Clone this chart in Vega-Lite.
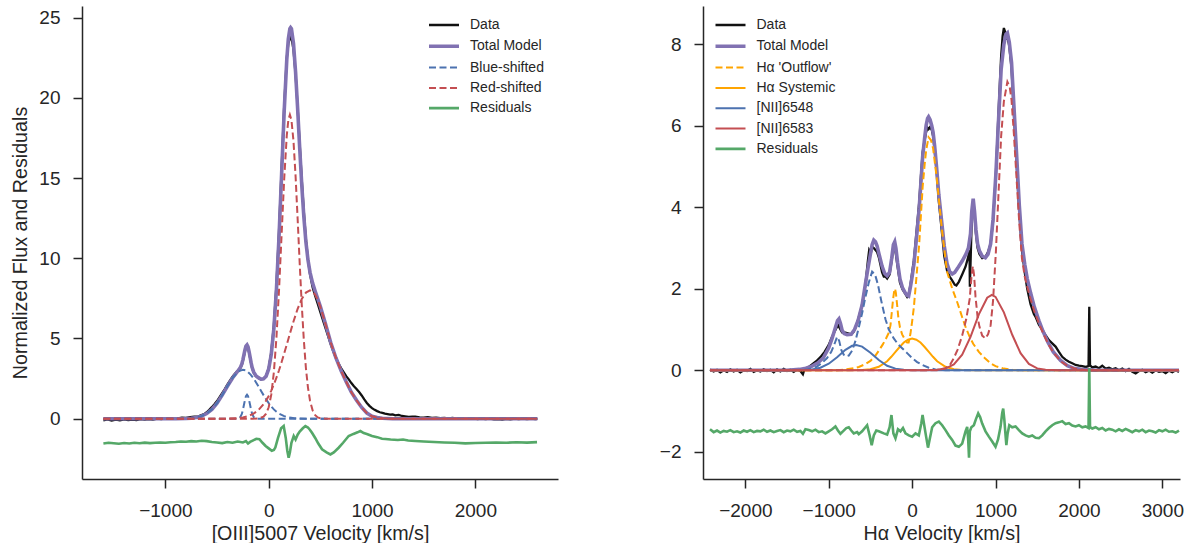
{
  "$schema": "https://vega.github.io/schema/vega-lite/v6.json",
  "background": "white",
  "padding": {"left": 10, "top": 6, "right": 0, "bottom": 0},
  "spacing": 145,
  "bounds": "flush",
  "datasets": {
    "L_data": [
      {"vel": -1600, "flux": -0.1}, {"vel": -1560, "flux": -0.05}, {"vel": -1520, "flux": -0.12}, {"vel": -1480, "flux": -0.06}, {"vel": -1440, "flux": -0.1}, {"vel": -1400, "flux": -0.04}, {"vel": -1360, "flux": -0.09}, {"vel": -1320, "flux": -0.05}, {"vel": -1280, "flux": -0.08}, {"vel": -1240, "flux": -0.03}, {"vel": -1200, "flux": -0.06}, {"vel": -1160, "flux": -0.02}, {"vel": -1120, "flux": -0.05}, {"vel": -1080, "flux": 0.0}, {"vel": -1040, "flux": -0.03}, {"vel": -1000, "flux": 0.02}, {"vel": -960, "flux": -0.01}, {"vel": -920, "flux": 0.03}, {"vel": -880, "flux": 0.02}, {"vel": -840, "flux": 0.06}, {"vel": -800, "flux": 0.05}, {"vel": -760, "flux": 0.09}, {"vel": -720, "flux": 0.12}, {"vel": -680, "flux": 0.15}, {"vel": -650, "flux": 0.22}, {"vel": -620, "flux": 0.3}, {"vel": -600, "flux": 0.4}, {"vel": -575, "flux": 0.55}, {"vel": -550, "flux": 0.72}, {"vel": -525, "flux": 0.9}, {"vel": -500, "flux": 1.1}, {"vel": -475, "flux": 1.35}, {"vel": -450, "flux": 1.6}, {"vel": -425, "flux": 1.85}, {"vel": -400, "flux": 2.12}, {"vel": -375, "flux": 2.38}, {"vel": -350, "flux": 2.62}, {"vel": -325, "flux": 2.82}, {"vel": -300, "flux": 2.98}, {"vel": -275, "flux": 3.15}, {"vel": -260, "flux": 3.35}, {"vel": -250, "flux": 3.6}, {"vel": -240, "flux": 3.9}, {"vel": -230, "flux": 4.2}, {"vel": -220, "flux": 4.42}, {"vel": -210, "flux": 4.5}, {"vel": -200, "flux": 4.4}, {"vel": -190, "flux": 4.12}, {"vel": -180, "flux": 3.78}, {"vel": -170, "flux": 3.45}, {"vel": -160, "flux": 3.15}, {"vel": -145, "flux": 2.88}, {"vel": -125, "flux": 2.66}, {"vel": -100, "flux": 2.53}, {"vel": -75, "flux": 2.45}, {"vel": -50, "flux": 2.48}, {"vel": -25, "flux": 2.66}, {"vel": 0, "flux": 3.15}, {"vel": 25, "flux": 4.15}, {"vel": 50, "flux": 5.8}, {"vel": 75, "flux": 8.35}, {"vel": 100, "flux": 11.7}, {"vel": 125, "flux": 15.6}, {"vel": 150, "flux": 19.5}, {"vel": 175, "flux": 22.5}, {"vel": 190, "flux": 23.4}, {"vel": 205, "flux": 23.7}, {"vel": 215, "flux": 23.9}, {"vel": 225, "flux": 23.6}, {"vel": 240, "flux": 23.0}, {"vel": 260, "flux": 21.5}, {"vel": 280, "flux": 19.4}, {"vel": 300, "flux": 17.1}, {"vel": 320, "flux": 14.9}, {"vel": 340, "flux": 12.9}, {"vel": 360, "flux": 11.2}, {"vel": 380, "flux": 9.95}, {"vel": 400, "flux": 9.0}, {"vel": 425, "flux": 8.2}, {"vel": 450, "flux": 7.65}, {"vel": 475, "flux": 7.15}, {"vel": 500, "flux": 6.65}, {"vel": 525, "flux": 6.15}, {"vel": 550, "flux": 5.65}, {"vel": 575, "flux": 5.15}, {"vel": 600, "flux": 4.65}, {"vel": 625, "flux": 4.2}, {"vel": 650, "flux": 3.8}, {"vel": 675, "flux": 3.45}, {"vel": 700, "flux": 3.15}, {"vel": 725, "flux": 2.9}, {"vel": 750, "flux": 2.65}, {"vel": 775, "flux": 2.45}, {"vel": 800, "flux": 2.22}, {"vel": 825, "flux": 2.02}, {"vel": 850, "flux": 1.85}, {"vel": 875, "flux": 1.66}, {"vel": 900, "flux": 1.45}, {"vel": 925, "flux": 1.2}, {"vel": 950, "flux": 0.98}, {"vel": 975, "flux": 0.8}, {"vel": 1000, "flux": 0.66}, {"vel": 1025, "flux": 0.55}, {"vel": 1050, "flux": 0.47}, {"vel": 1075, "flux": 0.4}, {"vel": 1100, "flux": 0.36}, {"vel": 1125, "flux": 0.31}, {"vel": 1150, "flux": 0.29}, {"vel": 1175, "flux": 0.25}, {"vel": 1200, "flux": 0.27}, {"vel": 1225, "flux": 0.21}, {"vel": 1258, "flux": 0.24}, {"vel": 1290, "flux": 0.17}, {"vel": 1320, "flux": 0.14}, {"vel": 1355, "flux": 0.11}, {"vel": 1390, "flux": 0.12}, {"vel": 1420, "flux": 0.13}, {"vel": 1460, "flux": 0.08}, {"vel": 1500, "flux": 0.06}, {"vel": 1540, "flux": 0.09}, {"vel": 1580, "flux": 0.05}, {"vel": 1620, "flux": 0.07}, {"vel": 1660, "flux": 0.03}, {"vel": 1700, "flux": 0.05}, {"vel": 1740, "flux": 0.02}, {"vel": 1780, "flux": 0.05}, {"vel": 1820, "flux": 0.01}, {"vel": 1860, "flux": 0.04}, {"vel": 1900, "flux": 0.02}, {"vel": 1940, "flux": -0.01}, {"vel": 1980, "flux": 0.03}, {"vel": 2020, "flux": -0.02}, {"vel": 2060, "flux": 0.01}, {"vel": 2100, "flux": -0.03}, {"vel": 2140, "flux": 0.0}, {"vel": 2180, "flux": -0.04}, {"vel": 2220, "flux": -0.02}, {"vel": 2260, "flux": -0.06}, {"vel": 2300, "flux": -0.01}, {"vel": 2340, "flux": -0.04}, {"vel": 2380, "flux": 0.0}, {"vel": 2420, "flux": -0.03}, {"vel": 2460, "flux": 0.01}, {"vel": 2500, "flux": -0.02}, {"vel": 2540, "flux": 0.0}, {"vel": 2580, "flux": -0.03}, {"vel": 2597, "flux": -0.01}
    ],
    "L_total": [
      {"vel": -1600, "flux": 0}, {"vel": -1000, "flux": 0}, {"vel": -900, "flux": 0}, {"vel": -800, "flux": 0.01}, {"vel": -750, "flux": 0.03}, {"vel": -700, "flux": 0.07}, {"vel": -650, "flux": 0.16}, {"vel": -600, "flux": 0.32}, {"vel": -550, "flux": 0.58}, {"vel": -500, "flux": 0.97}, {"vel": -450, "flux": 1.47}, {"vel": -400, "flux": 2.02}, {"vel": -350, "flux": 2.54}, {"vel": -300, "flux": 2.96}, {"vel": -275, "flux": 3.18}, {"vel": -260, "flux": 3.41}, {"vel": -250, "flux": 3.67}, {"vel": -240, "flux": 3.98}, {"vel": -230, "flux": 4.29}, {"vel": -220, "flux": 4.53}, {"vel": -210, "flux": 4.6}, {"vel": -200, "flux": 4.48}, {"vel": -190, "flux": 4.19}, {"vel": -180, "flux": 3.84}, {"vel": -170, "flux": 3.48}, {"vel": -160, "flux": 3.19}, {"vel": -145, "flux": 2.9}, {"vel": -125, "flux": 2.69}, {"vel": -100, "flux": 2.56}, {"vel": -75, "flux": 2.47}, {"vel": -50, "flux": 2.49}, {"vel": -25, "flux": 2.65}, {"vel": 0, "flux": 3.1}, {"vel": 25, "flux": 4.02}, {"vel": 50, "flux": 5.61}, {"vel": 75, "flux": 8.06}, {"vel": 100, "flux": 11.36}, {"vel": 125, "flux": 15.25}, {"vel": 150, "flux": 19.18}, {"vel": 175, "flux": 22.39}, {"vel": 190, "flux": 23.68}, {"vel": 205, "flux": 24.31}, {"vel": 212, "flux": 24.38}, {"vel": 220, "flux": 24.31}, {"vel": 240, "flux": 23.39}, {"vel": 260, "flux": 21.63}, {"vel": 280, "flux": 19.34}, {"vel": 300, "flux": 16.87}, {"vel": 320, "flux": 14.56}, {"vel": 340, "flux": 12.59}, {"vel": 360, "flux": 11.02}, {"vel": 380, "flux": 9.91}, {"vel": 400, "flux": 9.12}, {"vel": 425, "flux": 8.45}, {"vel": 450, "flux": 7.95}, {"vel": 475, "flux": 7.48}, {"vel": 500, "flux": 7.0}, {"vel": 550, "flux": 5.9}, {"vel": 600, "flux": 4.75}, {"vel": 650, "flux": 3.8}, {"vel": 700, "flux": 3.0}, {"vel": 750, "flux": 2.3}, {"vel": 800, "flux": 1.65}, {"vel": 850, "flux": 1.15}, {"vel": 900, "flux": 0.7}, {"vel": 950, "flux": 0.35}, {"vel": 1000, "flux": 0.15}, {"vel": 1050, "flux": 0.07}, {"vel": 1100, "flux": 0.03}, {"vel": 1200, "flux": 0}, {"vel": 2600, "flux": 0}
    ],
    "L_b1": [
      {"vel": -1600, "flux": 0}, {"vel": -900, "flux": 0}, {"vel": -800, "flux": 0.01}, {"vel": -750, "flux": 0.03}, {"vel": -700, "flux": 0.07}, {"vel": -650, "flux": 0.16}, {"vel": -600, "flux": 0.32}, {"vel": -550, "flux": 0.58}, {"vel": -500, "flux": 0.97}, {"vel": -450, "flux": 1.47}, {"vel": -400, "flux": 2.02}, {"vel": -350, "flux": 2.54}, {"vel": -300, "flux": 2.91}, {"vel": -275, "flux": 3.0}, {"vel": -250, "flux": 3.05}, {"vel": -225, "flux": 3.02}, {"vel": -200, "flux": 2.91}, {"vel": -175, "flux": 2.75}, {"vel": -150, "flux": 2.54}, {"vel": -125, "flux": 2.29}, {"vel": -100, "flux": 2.02}, {"vel": -75, "flux": 1.74}, {"vel": -50, "flux": 1.47}, {"vel": -25, "flux": 1.21}, {"vel": 0, "flux": 0.97}, {"vel": 25, "flux": 0.76}, {"vel": 50, "flux": 0.58}, {"vel": 75, "flux": 0.44}, {"vel": 100, "flux": 0.32}, {"vel": 150, "flux": 0.16}, {"vel": 200, "flux": 0.07}, {"vel": 250, "flux": 0.03}, {"vel": 300, "flux": 0.01}, {"vel": 400, "flux": 0}, {"vel": 2600, "flux": 0}
    ],
    "L_b2": [
      {"vel": -1600, "flux": 0}, {"vel": -320, "flux": 0}, {"vel": -290, "flux": 0.02}, {"vel": -275, "flux": 0.1}, {"vel": -260, "flux": 0.3}, {"vel": -250, "flux": 0.54}, {"vel": -240, "flux": 0.85}, {"vel": -230, "flux": 1.16}, {"vel": -220, "flux": 1.41}, {"vel": -210, "flux": 1.5}, {"vel": -200, "flux": 1.41}, {"vel": -190, "flux": 1.16}, {"vel": -180, "flux": 0.85}, {"vel": -170, "flux": 0.54}, {"vel": -160, "flux": 0.3}, {"vel": -145, "flux": 0.1}, {"vel": -130, "flux": 0.03}, {"vel": -115, "flux": 0}, {"vel": 2600, "flux": 0}
    ],
    "L_r1": [
      {"vel": -1600, "flux": 0}, {"vel": -150, "flux": 0}, {"vel": -100, "flux": 0.01}, {"vel": -50, "flux": 0.12}, {"vel": -25, "flux": 0.31}, {"vel": 0, "flux": 0.71}, {"vel": 25, "flux": 1.51}, {"vel": 50, "flux": 2.9}, {"vel": 75, "flux": 5.06}, {"vel": 100, "flux": 8.02}, {"vel": 125, "flux": 11.49}, {"vel": 150, "flux": 14.95}, {"vel": 175, "flux": 17.66}, {"vel": 190, "flux": 18.62}, {"vel": 205, "flux": 18.95}, {"vel": 220, "flux": 18.63}, {"vel": 240, "flux": 17.3}, {"vel": 260, "flux": 15.14}, {"vel": 280, "flux": 12.47}, {"vel": 300, "flux": 9.68}, {"vel": 320, "flux": 7.1}, {"vel": 340, "flux": 4.9}, {"vel": 360, "flux": 3.16}, {"vel": 380, "flux": 1.94}, {"vel": 400, "flux": 1.12}, {"vel": 425, "flux": 0.52}, {"vel": 450, "flux": 0.22}, {"vel": 475, "flux": 0.08}, {"vel": 500, "flux": 0.03}, {"vel": 550, "flux": 0}, {"vel": 2600, "flux": 0}
    ],
    "L_r2": [
      {"vel": -1600, "flux": 0}, {"vel": -400, "flux": 0}, {"vel": -300, "flux": 0.04}, {"vel": -250, "flux": 0.08}, {"vel": -200, "flux": 0.16}, {"vel": -150, "flux": 0.3}, {"vel": -100, "flux": 0.53}, {"vel": -50, "flux": 0.9}, {"vel": -25, "flux": 1.13}, {"vel": 0, "flux": 1.42}, {"vel": 25, "flux": 1.75}, {"vel": 50, "flux": 2.13}, {"vel": 75, "flux": 2.56}, {"vel": 100, "flux": 3.02}, {"vel": 125, "flux": 3.53}, {"vel": 150, "flux": 4.07}, {"vel": 175, "flux": 4.62}, {"vel": 205, "flux": 5.3}, {"vel": 240, "flux": 6.06}, {"vel": 280, "flux": 6.85}, {"vel": 320, "flux": 7.46}, {"vel": 360, "flux": 7.86}, {"vel": 400, "flux": 8.0}, {"vel": 425, "flux": 7.93}, {"vel": 450, "flux": 7.73}, {"vel": 475, "flux": 7.4}, {"vel": 500, "flux": 6.97}, {"vel": 550, "flux": 5.9}, {"vel": 600, "flux": 4.75}, {"vel": 650, "flux": 3.8}, {"vel": 700, "flux": 3.0}, {"vel": 750, "flux": 2.3}, {"vel": 800, "flux": 1.65}, {"vel": 850, "flux": 1.15}, {"vel": 900, "flux": 0.7}, {"vel": 950, "flux": 0.35}, {"vel": 1000, "flux": 0.15}, {"vel": 1050, "flux": 0.07}, {"vel": 1100, "flux": 0.03}, {"vel": 1200, "flux": 0}, {"vel": 2600, "flux": 0}
    ],
    "L_resid": [
      {"vel": -1600, "flux": -1.55}, {"vel": -1550, "flux": -1.5}, {"vel": -1500, "flux": -1.53}, {"vel": -1450, "flux": -1.56}, {"vel": -1400, "flux": -1.52}, {"vel": -1350, "flux": -1.55}, {"vel": -1300, "flux": -1.5}, {"vel": -1250, "flux": -1.53}, {"vel": -1200, "flux": -1.49}, {"vel": -1150, "flux": -1.52}, {"vel": -1100, "flux": -1.5}, {"vel": -1050, "flux": -1.48}, {"vel": -1000, "flux": -1.5}, {"vel": -950, "flux": -1.47}, {"vel": -900, "flux": -1.45}, {"vel": -850, "flux": -1.42}, {"vel": -800, "flux": -1.44}, {"vel": -750, "flux": -1.4}, {"vel": -700, "flux": -1.42}, {"vel": -650, "flux": -1.38}, {"vel": -600, "flux": -1.4}, {"vel": -550, "flux": -1.45}, {"vel": -500, "flux": -1.48}, {"vel": -450, "flux": -1.52}, {"vel": -400, "flux": -1.45}, {"vel": -350, "flux": -1.5}, {"vel": -300, "flux": -1.42}, {"vel": -250, "flux": -1.48}, {"vel": -220, "flux": -1.4}, {"vel": -200, "flux": -1.55}, {"vel": -180, "flux": -1.45}, {"vel": -150, "flux": -1.35}, {"vel": -120, "flux": -1.25}, {"vel": -90, "flux": -1.28}, {"vel": -60, "flux": -1.5}, {"vel": -30, "flux": -1.7}, {"vel": 0, "flux": -1.85}, {"vel": 30, "flux": -2.0}, {"vel": 50, "flux": -1.95}, {"vel": 64, "flux": -1.8}, {"vel": 90, "flux": -1.2}, {"vel": 120, "flux": -0.6}, {"vel": 145, "flux": -0.46}, {"vel": 165, "flux": -1.2}, {"vel": 180, "flux": -2.0}, {"vel": 193, "flux": -2.43}, {"vel": 205, "flux": -2.1}, {"vel": 220, "flux": -1.5}, {"vel": 242, "flux": -1.08}, {"vel": 260, "flux": -1.3}, {"vel": 280, "flux": -1.0}, {"vel": 300, "flux": -0.8}, {"vel": 330, "flux": -0.6}, {"vel": 355, "flux": -0.46}, {"vel": 380, "flux": -0.55}, {"vel": 400, "flux": -0.7}, {"vel": 419, "flux": -0.88}, {"vel": 450, "flux": -1.2}, {"vel": 480, "flux": -1.55}, {"vel": 516, "flux": -1.91}, {"vel": 560, "flux": -2.1}, {"vel": 597, "flux": -2.23}, {"vel": 630, "flux": -2.1}, {"vel": 677, "flux": -1.81}, {"vel": 720, "flux": -1.5}, {"vel": 774, "flux": -1.08}, {"vel": 820, "flux": -0.95}, {"vel": 860, "flux": -0.85}, {"vel": 887, "flux": -0.77}, {"vel": 920, "flux": -0.9}, {"vel": 950, "flux": -0.95}, {"vel": 1000, "flux": -1.08}, {"vel": 1050, "flux": -1.15}, {"vel": 1097, "flux": -1.25}, {"vel": 1129, "flux": -1.27}, {"vel": 1180, "flux": -1.3}, {"vel": 1250, "flux": -1.33}, {"vel": 1300, "flux": -1.3}, {"vel": 1350, "flux": -1.36}, {"vel": 1419, "flux": -1.39}, {"vel": 1500, "flux": -1.42}, {"vel": 1600, "flux": -1.45}, {"vel": 1700, "flux": -1.48}, {"vel": 1800, "flux": -1.5}, {"vel": 1903, "flux": -1.54}, {"vel": 2000, "flux": -1.52}, {"vel": 2100, "flux": -1.5}, {"vel": 2200, "flux": -1.48}, {"vel": 2300, "flux": -1.5}, {"vel": 2400, "flux": -1.47}, {"vel": 2500, "flux": -1.49}, {"vel": 2597, "flux": -1.46}
    ],
    "R_data": [
      {"vel": -2424, "flux": 0.02}, {"vel": -2380, "flux": -0.03}, {"vel": -2340, "flux": 0.01}, {"vel": -2300, "flux": -0.05}, {"vel": -2260, "flux": 0.0}, {"vel": -2220, "flux": -0.04}, {"vel": -2180, "flux": 0.02}, {"vel": -2140, "flux": -0.03}, {"vel": -2100, "flux": 0.01}, {"vel": -2060, "flux": -0.05}, {"vel": -2020, "flux": 0.0}, {"vel": -1980, "flux": -0.02}, {"vel": -1940, "flux": 0.03}, {"vel": -1900, "flux": -0.04}, {"vel": -1860, "flux": 0.0}, {"vel": -1820, "flux": -0.03}, {"vel": -1780, "flux": 0.02}, {"vel": -1740, "flux": -0.02}, {"vel": -1700, "flux": 0.01}, {"vel": -1660, "flux": -0.05}, {"vel": -1620, "flux": 0.02}, {"vel": -1580, "flux": -0.03}, {"vel": -1540, "flux": 0.03}, {"vel": -1500, "flux": -0.02}, {"vel": -1460, "flux": 0.01}, {"vel": -1420, "flux": -0.04}, {"vel": -1380, "flux": 0.02}, {"vel": -1340, "flux": -0.02}, {"vel": -1310, "flux": -0.1}, {"vel": -1290, "flux": 0.03}, {"vel": -1250, "flux": 0.06}, {"vel": -1200, "flux": 0.14}, {"vel": -1150, "flux": 0.22}, {"vel": -1100, "flux": 0.32}, {"vel": -1050, "flux": 0.45}, {"vel": -1000, "flux": 0.62}, {"vel": -960, "flux": 0.82}, {"vel": -930, "flux": 0.95}, {"vel": -905, "flux": 1.05}, {"vel": -885, "flux": 1.1}, {"vel": -860, "flux": 1.0}, {"vel": -840, "flux": 0.93}, {"vel": -800, "flux": 0.92}, {"vel": -760, "flux": 0.9}, {"vel": -730, "flux": 0.88}, {"vel": -700, "flux": 0.95}, {"vel": -670, "flux": 1.1}, {"vel": -640, "flux": 1.3}, {"vel": -600, "flux": 1.6}, {"vel": -560, "flux": 2.1}, {"vel": -530, "flux": 2.7}, {"vel": -515, "flux": 2.95}, {"vel": -495, "flux": 2.88}, {"vel": -480, "flux": 3.03}, {"vel": -460, "flux": 3.0}, {"vel": -440, "flux": 2.95}, {"vel": -420, "flux": 2.9}, {"vel": -397, "flux": 2.75}, {"vel": -360, "flux": 2.4}, {"vel": -340, "flux": 2.3}, {"vel": -320, "flux": 2.3}, {"vel": -300, "flux": 2.25}, {"vel": -271, "flux": 2.35}, {"vel": -245, "flux": 2.7}, {"vel": -225, "flux": 3.02}, {"vel": -209, "flux": 3.0}, {"vel": -195, "flux": 2.85}, {"vel": -175, "flux": 2.55}, {"vel": -146, "flux": 2.15}, {"vel": -115, "flux": 1.98}, {"vel": -83, "flux": 1.88}, {"vel": -60, "flux": 1.8}, {"vel": -42, "flux": 1.85}, {"vel": -20, "flux": 2.1}, {"vel": 0, "flux": 2.4}, {"vel": 21, "flux": 2.7}, {"vel": 50, "flux": 3.35}, {"vel": 84, "flux": 4.1}, {"vel": 105, "flux": 4.75}, {"vel": 126, "flux": 5.35}, {"vel": 150, "flux": 5.65}, {"vel": 168, "flux": 5.85}, {"vel": 185, "flux": 5.95}, {"vel": 197, "flux": 5.92}, {"vel": 215, "flux": 5.97}, {"vel": 235, "flux": 5.9}, {"vel": 251, "flux": 5.75}, {"vel": 270, "flux": 5.4}, {"vel": 293, "flux": 4.9}, {"vel": 320, "flux": 4.15}, {"vel": 356, "flux": 3.4}, {"vel": 385, "flux": 2.8}, {"vel": 418, "flux": 2.45}, {"vel": 450, "flux": 2.3}, {"vel": 481, "flux": 2.2}, {"vel": 510, "flux": 2.1}, {"vel": 530, "flux": 2.08}, {"vel": 560, "flux": 2.17}, {"vel": 600, "flux": 2.35}, {"vel": 640, "flux": 2.54}, {"vel": 675, "flux": 2.8}, {"vel": 688, "flux": 2.95}, {"vel": 692, "flux": 2.05}, {"vel": 700, "flux": 2.6}, {"vel": 715, "flux": 3.7}, {"vel": 732, "flux": 4.05}, {"vel": 748, "flux": 3.8}, {"vel": 765, "flux": 3.35}, {"vel": 785, "flux": 3.0}, {"vel": 807, "flux": 2.85}, {"vel": 840, "flux": 2.75}, {"vel": 878, "flux": 2.78}, {"vel": 910, "flux": 2.9}, {"vel": 941, "flux": 3.1}, {"vel": 970, "flux": 3.65}, {"vel": 1004, "flux": 4.8}, {"vel": 1035, "flux": 6.3}, {"vel": 1067, "flux": 7.7}, {"vel": 1085, "flux": 8.2}, {"vel": 1100, "flux": 8.4}, {"vel": 1115, "flux": 8.3}, {"vel": 1125, "flux": 8.15}, {"vel": 1142, "flux": 8.2}, {"vel": 1165, "flux": 7.95}, {"vel": 1192, "flux": 7.4}, {"vel": 1220, "flux": 6.3}, {"vel": 1254, "flux": 5.0}, {"vel": 1285, "flux": 3.85}, {"vel": 1317, "flux": 2.95}, {"vel": 1350, "flux": 2.4}, {"vel": 1380, "flux": 2.0}, {"vel": 1420, "flux": 1.62}, {"vel": 1460, "flux": 1.38}, {"vel": 1480, "flux": 1.31}, {"vel": 1520, "flux": 1.12}, {"vel": 1560, "flux": 0.99}, {"vel": 1600, "flux": 0.86}, {"vel": 1640, "flux": 0.74}, {"vel": 1680, "flux": 0.66}, {"vel": 1720, "flux": 0.58}, {"vel": 1760, "flux": 0.45}, {"vel": 1800, "flux": 0.33}, {"vel": 1840, "flux": 0.26}, {"vel": 1880, "flux": 0.21}, {"vel": 1920, "flux": 0.17}, {"vel": 1960, "flux": 0.13}, {"vel": 2000, "flux": 0.11}, {"vel": 2040, "flux": 0.1}, {"vel": 2080, "flux": 0.08}, {"vel": 2115, "flux": 0.1}, {"vel": 2124, "flux": 1.56}, {"vel": 2133, "flux": 0.12}, {"vel": 2160, "flux": 0.07}, {"vel": 2200, "flux": 0.09}, {"vel": 2240, "flux": 0.05}, {"vel": 2280, "flux": 0.11}, {"vel": 2320, "flux": 0.04}, {"vel": 2360, "flux": 0.06}, {"vel": 2400, "flux": 0.02}, {"vel": 2440, "flux": 0.05}, {"vel": 2480, "flux": 0.0}, {"vel": 2520, "flux": 0.04}, {"vel": 2560, "flux": -0.02}, {"vel": 2600, "flux": 0.03}, {"vel": 2640, "flux": -0.04}, {"vel": 2680, "flux": -0.08}, {"vel": 2720, "flux": -0.02}, {"vel": 2760, "flux": 0.01}, {"vel": 2800, "flux": -0.05}, {"vel": 2840, "flux": -0.01}, {"vel": 2880, "flux": -0.06}, {"vel": 2920, "flux": 0.0}, {"vel": 2960, "flux": -0.04}, {"vel": 3000, "flux": -0.02}, {"vel": 3040, "flux": -0.07}, {"vel": 3080, "flux": -0.01}, {"vel": 3120, "flux": -0.05}, {"vel": 3160, "flux": 0.0}, {"vel": 3200, "flux": -0.04}
    ],
    "R_total": [
      {"vel": -2424, "flux": 0}, {"vel": -1500, "flux": 0}, {"vel": -1350, "flux": 0.02}, {"vel": -1275, "flux": 0.05}, {"vel": -1200, "flux": 0.1}, {"vel": -1130, "flux": 0.18}, {"vel": -1066, "flux": 0.3}, {"vel": -1000, "flux": 0.55}, {"vel": -960, "flux": 0.78}, {"vel": -920, "flux": 1.05}, {"vel": -895, "flux": 1.22}, {"vel": -878, "flux": 1.26}, {"vel": -860, "flux": 1.15}, {"vel": -840, "flux": 0.98}, {"vel": -815, "flux": 0.9}, {"vel": -780, "flux": 0.87}, {"vel": -731, "flux": 0.88}, {"vel": -690, "flux": 1.0}, {"vel": -648, "flux": 1.22}, {"vel": -600, "flux": 1.6}, {"vel": -564, "flux": 2.07}, {"vel": -530, "flux": 2.5}, {"vel": -501, "flux": 2.84}, {"vel": -480, "flux": 3.08}, {"vel": -460, "flux": 3.19}, {"vel": -440, "flux": 3.15}, {"vel": -420, "flux": 3.05}, {"vel": -397, "flux": 2.85}, {"vel": -360, "flux": 2.55}, {"vel": -330, "flux": 2.38}, {"vel": -300, "flux": 2.32}, {"vel": -271, "flux": 2.4}, {"vel": -245, "flux": 2.75}, {"vel": -225, "flux": 3.08}, {"vel": -209, "flux": 3.15}, {"vel": -195, "flux": 3.0}, {"vel": -175, "flux": 2.65}, {"vel": -146, "flux": 2.24}, {"vel": -115, "flux": 2.02}, {"vel": -83, "flux": 1.9}, {"vel": -60, "flux": 1.84}, {"vel": -42, "flux": 1.82}, {"vel": -20, "flux": 2.05}, {"vel": 0, "flux": 2.3}, {"vel": 21, "flux": 2.6}, {"vel": 50, "flux": 3.2}, {"vel": 84, "flux": 3.96}, {"vel": 105, "flux": 4.6}, {"vel": 126, "flux": 5.24}, {"vel": 150, "flux": 5.7}, {"vel": 168, "flux": 6.01}, {"vel": 185, "flux": 6.18}, {"vel": 197, "flux": 6.22}, {"vel": 215, "flux": 6.15}, {"vel": 235, "flux": 6.0}, {"vel": 251, "flux": 5.84}, {"vel": 270, "flux": 5.5}, {"vel": 293, "flux": 4.98}, {"vel": 320, "flux": 4.3}, {"vel": 356, "flux": 3.61}, {"vel": 385, "flux": 3.05}, {"vel": 418, "flux": 2.62}, {"vel": 450, "flux": 2.42}, {"vel": 481, "flux": 2.36}, {"vel": 510, "flux": 2.4}, {"vel": 544, "flux": 2.5}, {"vel": 600, "flux": 2.68}, {"vel": 648, "flux": 2.86}, {"vel": 675, "flux": 3.0}, {"vel": 700, "flux": 3.35}, {"vel": 715, "flux": 3.9}, {"vel": 732, "flux": 4.21}, {"vel": 748, "flux": 3.9}, {"vel": 765, "flux": 3.45}, {"vel": 785, "flux": 3.1}, {"vel": 807, "flux": 2.93}, {"vel": 840, "flux": 2.8}, {"vel": 878, "flux": 2.76}, {"vel": 910, "flux": 2.85}, {"vel": 941, "flux": 3.1}, {"vel": 970, "flux": 3.7}, {"vel": 1004, "flux": 4.81}, {"vel": 1035, "flux": 6.1}, {"vel": 1067, "flux": 7.38}, {"vel": 1100, "flux": 8.0}, {"vel": 1125, "flux": 8.25}, {"vel": 1142, "flux": 8.28}, {"vel": 1165, "flux": 8.05}, {"vel": 1192, "flux": 7.55}, {"vel": 1220, "flux": 6.5}, {"vel": 1254, "flux": 5.24}, {"vel": 1285, "flux": 4.05}, {"vel": 1317, "flux": 3.1}, {"vel": 1350, "flux": 2.6}, {"vel": 1380, "flux": 2.25}, {"vel": 1420, "flux": 1.9}, {"vel": 1464, "flux": 1.56}, {"vel": 1520, "flux": 1.22}, {"vel": 1568, "flux": 0.96}, {"vel": 1630, "flux": 0.68}, {"vel": 1693, "flux": 0.45}, {"vel": 1780, "flux": 0.24}, {"vel": 1861, "flux": 0.11}, {"vel": 1950, "flux": 0.04}, {"vel": 2028, "flux": 0.02}, {"vel": 2200, "flux": 0}, {"vel": 3200, "flux": 0}
    ],
    "R_od": [
      {"vel": -2424, "flux": 0}, {"vel": -900, "flux": 0}, {"vel": -800, "flux": 0.02}, {"vel": -700, "flux": 0.05}, {"vel": -640, "flux": 0.08}, {"vel": -560, "flux": 0.15}, {"vel": -500, "flux": 0.23}, {"vel": -440, "flux": 0.36}, {"vel": -400, "flux": 0.48}, {"vel": -350, "flux": 0.64}, {"vel": -313, "flux": 0.78}, {"vel": -280, "flux": 0.92}, {"vel": -260, "flux": 1.1}, {"vel": -245, "flux": 1.4}, {"vel": -230, "flux": 1.72}, {"vel": -215, "flux": 1.95}, {"vel": -205, "flux": 2.0}, {"vel": -195, "flux": 1.9}, {"vel": -180, "flux": 1.6}, {"vel": -165, "flux": 1.28}, {"vel": -146, "flux": 1.05}, {"vel": -120, "flux": 0.88}, {"vel": -83, "flux": 0.74}, {"vel": -60, "flux": 0.68}, {"vel": -42, "flux": 0.68}, {"vel": -20, "flux": 0.9}, {"vel": 0, "flux": 1.2}, {"vel": 21, "flux": 1.55}, {"vel": 50, "flux": 2.25}, {"vel": 84, "flux": 3.08}, {"vel": 105, "flux": 3.8}, {"vel": 126, "flux": 4.5}, {"vel": 150, "flux": 5.05}, {"vel": 168, "flux": 5.4}, {"vel": 197, "flux": 5.72}, {"vel": 225, "flux": 5.65}, {"vel": 251, "flux": 5.45}, {"vel": 293, "flux": 4.75}, {"vel": 356, "flux": 3.47}, {"vel": 418, "flux": 2.42}, {"vel": 481, "flux": 2.0}, {"vel": 544, "flux": 1.65}, {"vel": 600, "flux": 1.3}, {"vel": 648, "flux": 1.02}, {"vel": 690, "flux": 0.82}, {"vel": 732, "flux": 0.65}, {"vel": 800, "flux": 0.45}, {"vel": 870, "flux": 0.3}, {"vel": 940, "flux": 0.17}, {"vel": 1000, "flux": 0.1}, {"vel": 1100, "flux": 0.04}, {"vel": 1200, "flux": 0.01}, {"vel": 1300, "flux": 0}, {"vel": 3200, "flux": 0}
    ],
    "R_os": [
      {"vel": -2424, "flux": 0}, {"vel": -760, "flux": 0}, {"vel": -600, "flux": 0.005}, {"vel": -500, "flux": 0.025}, {"vel": -400, "flux": 0.085}, {"vel": -300, "flux": 0.22}, {"vel": -250, "flux": 0.33}, {"vel": -200, "flux": 0.45}, {"vel": -150, "flux": 0.57}, {"vel": -100, "flux": 0.68}, {"vel": -50, "flux": 0.75}, {"vel": 0, "flux": 0.78}, {"vel": 50, "flux": 0.75}, {"vel": 100, "flux": 0.68}, {"vel": 150, "flux": 0.57}, {"vel": 200, "flux": 0.45}, {"vel": 250, "flux": 0.33}, {"vel": 300, "flux": 0.22}, {"vel": 400, "flux": 0.085}, {"vel": 500, "flux": 0.025}, {"vel": 600, "flux": 0.005}, {"vel": 760, "flux": 0}, {"vel": 3200, "flux": 0}
    ],
    "R_bd": [
      {"vel": -2424, "flux": 0}, {"vel": -1400, "flux": 0}, {"vel": -1250, "flux": 0.02}, {"vel": -1150, "flux": 0.08}, {"vel": -1080, "flux": 0.18}, {"vel": -1020, "flux": 0.3}, {"vel": -970, "flux": 0.45}, {"vel": -930, "flux": 0.65}, {"vel": -900, "flux": 0.82}, {"vel": -875, "flux": 0.72}, {"vel": -850, "flux": 0.5}, {"vel": -820, "flux": 0.38}, {"vel": -790, "flux": 0.34}, {"vel": -760, "flux": 0.36}, {"vel": -720, "flux": 0.48}, {"vel": -680, "flux": 0.72}, {"vel": -640, "flux": 1.05}, {"vel": -600, "flux": 1.4}, {"vel": -560, "flux": 1.8}, {"vel": -520, "flux": 2.15}, {"vel": -480, "flux": 2.42}, {"vel": -445, "flux": 2.35}, {"vel": -410, "flux": 2.1}, {"vel": -370, "flux": 1.7}, {"vel": -320, "flux": 1.25}, {"vel": -280, "flux": 1.0}, {"vel": -220, "flux": 0.78}, {"vel": -170, "flux": 0.64}, {"vel": -120, "flux": 0.54}, {"vel": -60, "flux": 0.42}, {"vel": 0, "flux": 0.3}, {"vel": 60, "flux": 0.2}, {"vel": 120, "flux": 0.13}, {"vel": 200, "flux": 0.06}, {"vel": 280, "flux": 0.02}, {"vel": 400, "flux": 0}, {"vel": 3200, "flux": 0}
    ],
    "R_bs": [
      {"vel": -2424, "flux": 0}, {"vel": -1470, "flux": 0}, {"vel": -1300, "flux": 0.004}, {"vel": -1200, "flux": 0.019}, {"vel": -1100, "flux": 0.061}, {"vel": -1000, "flux": 0.16}, {"vel": -900, "flux": 0.32}, {"vel": -800, "flux": 0.5}, {"vel": -720, "flux": 0.6}, {"vel": -670, "flux": 0.62}, {"vel": -600, "flux": 0.58}, {"vel": -500, "flux": 0.43}, {"vel": -400, "flux": 0.25}, {"vel": -300, "flux": 0.11}, {"vel": -200, "flux": 0.039}, {"vel": -100, "flux": 0.011}, {"vel": 0, "flux": 0.002}, {"vel": 130, "flux": 0}, {"vel": 3200, "flux": 0}
    ],
    "R_rd": [
      {"vel": -2424, "flux": 0}, {"vel": 300, "flux": 0}, {"vel": 400, "flux": 0.05}, {"vel": 450, "flux": 0.12}, {"vel": 500, "flux": 0.3}, {"vel": 544, "flux": 0.5}, {"vel": 600, "flux": 0.85}, {"vel": 648, "flux": 1.25}, {"vel": 690, "flux": 1.75}, {"vel": 712, "flux": 2.3}, {"vel": 728, "flux": 2.55}, {"vel": 742, "flux": 2.35}, {"vel": 760, "flux": 1.8}, {"vel": 785, "flux": 1.3}, {"vel": 807, "flux": 1.07}, {"vel": 840, "flux": 0.85}, {"vel": 878, "flux": 0.78}, {"vel": 910, "flux": 0.88}, {"vel": 941, "flux": 1.1}, {"vel": 970, "flux": 1.7}, {"vel": 1004, "flux": 2.9}, {"vel": 1035, "flux": 4.3}, {"vel": 1067, "flux": 5.74}, {"vel": 1100, "flux": 6.6}, {"vel": 1142, "flux": 7.08}, {"vel": 1170, "flux": 6.95}, {"vel": 1192, "flux": 6.63}, {"vel": 1220, "flux": 5.8}, {"vel": 1254, "flux": 4.64}, {"vel": 1285, "flux": 3.6}, {"vel": 1317, "flux": 2.74}, {"vel": 1350, "flux": 2.3}, {"vel": 1380, "flux": 2.05}, {"vel": 1420, "flux": 1.75}, {"vel": 1464, "flux": 1.45}, {"vel": 1520, "flux": 1.15}, {"vel": 1568, "flux": 0.92}, {"vel": 1630, "flux": 0.65}, {"vel": 1693, "flux": 0.44}, {"vel": 1780, "flux": 0.22}, {"vel": 1861, "flux": 0.11}, {"vel": 1950, "flux": 0.04}, {"vel": 2050, "flux": 0.01}, {"vel": 2150, "flux": 0}, {"vel": 3200, "flux": 0}
    ],
    "R_rs": [
      {"vel": -2424, "flux": 0}, {"vel": 155, "flux": 0}, {"vel": 300, "flux": 0.009}, {"vel": 400, "flux": 0.04}, {"vel": 500, "flux": 0.14}, {"vel": 600, "flux": 0.38}, {"vel": 700, "flux": 0.82}, {"vel": 800, "flux": 1.37}, {"vel": 900, "flux": 1.78}, {"vel": 955, "flux": 1.85}, {"vel": 1000, "flux": 1.8}, {"vel": 1100, "flux": 1.42}, {"vel": 1200, "flux": 0.87}, {"vel": 1300, "flux": 0.42}, {"vel": 1400, "flux": 0.155}, {"vel": 1500, "flux": 0.045}, {"vel": 1600, "flux": 0.01}, {"vel": 1750, "flux": 0}, {"vel": 3200, "flux": 0}
    ],
    "R_resid": [
      {"vel": -2424, "flux": -1.45}, {"vel": -2380, "flux": -1.52}, {"vel": -2340, "flux": -1.48}, {"vel": -2300, "flux": -1.53}, {"vel": -2260, "flux": -1.49}, {"vel": -2220, "flux": -1.51}, {"vel": -2180, "flux": -1.47}, {"vel": -2140, "flux": -1.52}, {"vel": -2100, "flux": -1.5}, {"vel": -2060, "flux": -1.53}, {"vel": -2020, "flux": -1.48}, {"vel": -1980, "flux": -1.51}, {"vel": -1940, "flux": -1.47}, {"vel": -1900, "flux": -1.52}, {"vel": -1860, "flux": -1.49}, {"vel": -1820, "flux": -1.5}, {"vel": -1780, "flux": -1.46}, {"vel": -1740, "flux": -1.51}, {"vel": -1700, "flux": -1.48}, {"vel": -1660, "flux": -1.52}, {"vel": -1620, "flux": -1.49}, {"vel": -1580, "flux": -1.47}, {"vel": -1540, "flux": -1.52}, {"vel": -1500, "flux": -1.48}, {"vel": -1460, "flux": -1.5}, {"vel": -1420, "flux": -1.46}, {"vel": -1380, "flux": -1.51}, {"vel": -1340, "flux": -1.49}, {"vel": -1310, "flux": -1.56}, {"vel": -1280, "flux": -1.45}, {"vel": -1240, "flux": -1.47}, {"vel": -1200, "flux": -1.5}, {"vel": -1160, "flux": -1.46}, {"vel": -1120, "flux": -1.52}, {"vel": -1080, "flux": -1.5}, {"vel": -1040, "flux": -1.55}, {"vel": -1000, "flux": -1.5}, {"vel": -960, "flux": -1.45}, {"vel": -920, "flux": -1.38}, {"vel": -890, "flux": -1.48}, {"vel": -860, "flux": -1.56}, {"vel": -830, "flux": -1.5}, {"vel": -790, "flux": -1.42}, {"vel": -760, "flux": -1.4}, {"vel": -730, "flux": -1.48}, {"vel": -700, "flux": -1.55}, {"vel": -660, "flux": -1.52}, {"vel": -640, "flux": -1.57}, {"vel": -600, "flux": -1.5}, {"vel": -560, "flux": -1.4}, {"vel": -540, "flux": -1.35}, {"vel": -510, "flux": -1.6}, {"vel": -485, "flux": -1.84}, {"vel": -460, "flux": -1.6}, {"vel": -430, "flux": -1.48}, {"vel": -400, "flux": -1.5}, {"vel": -340, "flux": -1.55}, {"vel": -300, "flux": -1.58}, {"vel": -270, "flux": -1.4}, {"vel": -248, "flux": -1.1}, {"vel": -225, "flux": -1.55}, {"vel": -200, "flux": -1.67}, {"vel": -170, "flux": -1.45}, {"vel": -140, "flux": -1.5}, {"vel": -110, "flux": -1.42}, {"vel": -80, "flux": -1.55}, {"vel": -40, "flux": -1.6}, {"vel": 0, "flux": -1.63}, {"vel": 40, "flux": -1.55}, {"vel": 80, "flux": -1.6}, {"vel": 110, "flux": -1.3}, {"vel": 125, "flux": -1.1}, {"vel": 145, "flux": -1.35}, {"vel": 165, "flux": -1.6}, {"vel": 190, "flux": -1.9}, {"vel": 210, "flux": -1.7}, {"vel": 240, "flux": -1.4}, {"vel": 280, "flux": -1.3}, {"vel": 320, "flux": -1.26}, {"vel": 360, "flux": -1.35}, {"vel": 400, "flux": -1.47}, {"vel": 440, "flux": -1.6}, {"vel": 480, "flux": -1.71}, {"vel": 520, "flux": -1.85}, {"vel": 560, "flux": -1.88}, {"vel": 600, "flux": -1.8}, {"vel": 640, "flux": -1.5}, {"vel": 660, "flux": -1.39}, {"vel": 672, "flux": -1.7}, {"vel": 682, "flux": -2.15}, {"vel": 692, "flux": -1.5}, {"vel": 710, "flux": -1.4}, {"vel": 740, "flux": -1.35}, {"vel": 765, "flux": -1.2}, {"vel": 792, "flux": -1.06}, {"vel": 815, "flux": -1.15}, {"vel": 840, "flux": -1.31}, {"vel": 880, "flux": -1.5}, {"vel": 920, "flux": -1.63}, {"vel": 960, "flux": -1.75}, {"vel": 1000, "flux": -1.88}, {"vel": 1030, "flux": -1.7}, {"vel": 1060, "flux": -1.39}, {"vel": 1080, "flux": -1.05}, {"vel": 1092, "flux": -0.94}, {"vel": 1105, "flux": -1.2}, {"vel": 1120, "flux": -1.6}, {"vel": 1130, "flux": -1.84}, {"vel": 1145, "flux": -1.55}, {"vel": 1165, "flux": -1.35}, {"vel": 1200, "flux": -1.4}, {"vel": 1240, "flux": -1.38}, {"vel": 1280, "flux": -1.47}, {"vel": 1320, "flux": -1.55}, {"vel": 1360, "flux": -1.6}, {"vel": 1400, "flux": -1.63}, {"vel": 1440, "flux": -1.6}, {"vel": 1480, "flux": -1.66}, {"vel": 1520, "flux": -1.67}, {"vel": 1560, "flux": -1.6}, {"vel": 1600, "flux": -1.5}, {"vel": 1640, "flux": -1.42}, {"vel": 1680, "flux": -1.35}, {"vel": 1720, "flux": -1.3}, {"vel": 1760, "flux": -1.28}, {"vel": 1800, "flux": -1.25}, {"vel": 1840, "flux": -1.32}, {"vel": 1880, "flux": -1.3}, {"vel": 1920, "flux": -1.36}, {"vel": 1960, "flux": -1.38}, {"vel": 2000, "flux": -1.35}, {"vel": 2040, "flux": -1.4}, {"vel": 2080, "flux": -1.38}, {"vel": 2115, "flux": -1.42}, {"vel": 2124, "flux": 0.05}, {"vel": 2133, "flux": -1.4}, {"vel": 2160, "flux": -1.43}, {"vel": 2200, "flux": -1.4}, {"vel": 2240, "flux": -1.45}, {"vel": 2280, "flux": -1.42}, {"vel": 2320, "flux": -1.48}, {"vel": 2360, "flux": -1.44}, {"vel": 2400, "flux": -1.46}, {"vel": 2440, "flux": -1.5}, {"vel": 2480, "flux": -1.45}, {"vel": 2520, "flux": -1.49}, {"vel": 2560, "flux": -1.44}, {"vel": 2600, "flux": -1.48}, {"vel": 2640, "flux": -1.52}, {"vel": 2680, "flux": -1.47}, {"vel": 2720, "flux": -1.5}, {"vel": 2760, "flux": -1.46}, {"vel": 2800, "flux": -1.52}, {"vel": 2840, "flux": -1.48}, {"vel": 2880, "flux": -1.5}, {"vel": 2920, "flux": -1.53}, {"vel": 2960, "flux": -1.47}, {"vel": 3000, "flux": -1.5}, {"vel": 3040, "flux": -1.46}, {"vel": 3080, "flux": -1.51}, {"vel": 3120, "flux": -1.5}, {"vel": 3160, "flux": -1.53}, {"vel": 3200, "flux": -1.48}
    ]
  },
  "hconcat": [
    {
      "width": 476,
      "height": 473,
      "encoding": {
        "x": {"field": "vel", "type": "quantitative", "scale": {"domain": [-1807, 2800], "nice": false, "zero": false}, "axis": {"title": "[OIII]5007 Velocity [km/s]", "values": [-1000, 0, 1000, 2000], "format": "d"}},
        "y": {"field": "flux", "type": "quantitative", "scale": {"domain": [-3.76, 25.73], "nice": false, "zero": false}, "axis": {"title": "Normalized Flux and Residuals", "values": [0, 5, 10, 15, 20, 25], "format": "d"}}
      },
      "layer": [
        {"data": {"name": "L_data"}, "mark": {"type": "line", "strokeWidth": 2.3},
         "encoding": {"color": {"datum": "Data", "type": "nominal", "scale": {"domain": ["Data", "Total Model", "Blue-shifted", "Red-shifted", "Residuals"], "range": ["#111111", "#8172B2", "#4C72B0", "#C44E52", "#55A868"]}, "legend": {"title": null, "orient": "none", "legendX": 355, "legendY": 12, "encode": {"symbols": {"update": {"strokeDash": {"signal": "indexof(['Blue-shifted','Red-shifted'], datum.value) >= 0 ? [7,3.5] : [1,0]"}, "strokeWidth": {"signal": "datum.value === 'Total Model' ? 3.6 : datum.value === 'Data' ? 2.6 : datum.value === 'Residuals' ? 2.8 : 2"}}}}}}}},
        {"data": {"name": "L_total"}, "mark": {"type": "line", "strokeWidth": 3.6},
         "encoding": {"color": {"datum": "Total Model", "type": "nominal", "scale": {"domain": ["Data", "Total Model", "Blue-shifted", "Red-shifted", "Residuals"], "range": ["#111111", "#8172B2", "#4C72B0", "#C44E52", "#55A868"]}}}},
        {"data": {"name": "L_b1"}, "mark": {"type": "line", "strokeWidth": 2, "strokeDash": [7, 3.5]},
         "encoding": {"color": {"datum": "Blue-shifted", "type": "nominal", "scale": {"domain": ["Data", "Total Model", "Blue-shifted", "Red-shifted", "Residuals"], "range": ["#111111", "#8172B2", "#4C72B0", "#C44E52", "#55A868"]}}}},
        {"data": {"name": "L_b2"}, "mark": {"type": "line", "strokeWidth": 2, "strokeDash": [7, 3.5]},
         "encoding": {"color": {"datum": "Blue-shifted", "type": "nominal", "scale": {"domain": ["Data", "Total Model", "Blue-shifted", "Red-shifted", "Residuals"], "range": ["#111111", "#8172B2", "#4C72B0", "#C44E52", "#55A868"]}}}},
        {"data": {"name": "L_r1"}, "mark": {"type": "line", "strokeWidth": 2, "strokeDash": [7, 3.5]},
         "encoding": {"color": {"datum": "Red-shifted", "type": "nominal", "scale": {"domain": ["Data", "Total Model", "Blue-shifted", "Red-shifted", "Residuals"], "range": ["#111111", "#8172B2", "#4C72B0", "#C44E52", "#55A868"]}}}},
        {"data": {"name": "L_r2"}, "mark": {"type": "line", "strokeWidth": 2, "strokeDash": [7, 3.5]},
         "encoding": {"color": {"datum": "Red-shifted", "type": "nominal", "scale": {"domain": ["Data", "Total Model", "Blue-shifted", "Red-shifted", "Residuals"], "range": ["#111111", "#8172B2", "#4C72B0", "#C44E52", "#55A868"]}}}},
        {"data": {"name": "L_resid"}, "mark": {"type": "line", "strokeWidth": 2.6},
         "encoding": {"color": {"datum": "Residuals", "type": "nominal", "scale": {"domain": ["Data", "Total Model", "Blue-shifted", "Red-shifted", "Residuals"], "range": ["#111111", "#8172B2", "#4C72B0", "#C44E52", "#55A868"]}}}}
      ]
    },
    {
      "width": 477,
      "height": 473,
      "encoding": {
        "x": {"field": "vel", "type": "quantitative", "scale": {"domain": [-2508, 3212], "nice": false, "zero": false}, "axis": {"title": "Hα Velocity [km/s]", "values": [-2000, -1000, 0, 1000, 2000, 3000], "format": "d"}},
        "y": {"field": "flux", "type": "quantitative", "scale": {"domain": [-2.67, 8.94], "nice": false, "zero": false}, "axis": {"title": null, "values": [-2, 0, 2, 4, 6, 8], "format": "d"}}
      },
      "layer": [
        {"data": {"name": "R_data"}, "mark": {"type": "line", "strokeWidth": 2.3},
         "encoding": {"color": {"datum": "Data", "type": "nominal", "scale": {"domain": ["Data", "Total Model", "Hα 'Outflow'", "Hα Systemic", "[NII]6548", "[NII]6583", "Residuals"], "range": ["#111111", "#8172B2", "#FFA500", "#FFA500", "#4C72B0", "#C44E52", "#55A868"]}, "legend": {"title": null, "orient": "none", "legendX": 20.5, "legendY": 12, "encode": {"symbols": {"update": {"strokeDash": {"signal": "datum.value === \"Hα 'Outflow'\" ? [7,3.5] : [1,0]"}, "strokeWidth": {"signal": "datum.value === 'Total Model' ? 3.6 : datum.value === 'Data' ? 2.6 : datum.value === 'Residuals' ? 2.8 : 2"}}}}}}}},
        {"data": {"name": "R_total"}, "mark": {"type": "line", "strokeWidth": 3.6},
         "encoding": {"color": {"datum": "Total Model", "type": "nominal", "scale": {"domain": ["Data", "Total Model", "Hα 'Outflow'", "Hα Systemic", "[NII]6548", "[NII]6583", "Residuals"], "range": ["#111111", "#8172B2", "#FFA500", "#FFA500", "#4C72B0", "#C44E52", "#55A868"]}}}},
        {"data": {"name": "R_od"}, "mark": {"type": "line", "strokeWidth": 2, "strokeDash": [7, 3.5]},
         "encoding": {"color": {"datum": "Hα 'Outflow'", "type": "nominal", "scale": {"domain": ["Data", "Total Model", "Hα 'Outflow'", "Hα Systemic", "[NII]6548", "[NII]6583", "Residuals"], "range": ["#111111", "#8172B2", "#FFA500", "#FFA500", "#4C72B0", "#C44E52", "#55A868"]}}}},
        {"data": {"name": "R_os"}, "mark": {"type": "line", "strokeWidth": 2},
         "encoding": {"color": {"datum": "Hα Systemic", "type": "nominal", "scale": {"domain": ["Data", "Total Model", "Hα 'Outflow'", "Hα Systemic", "[NII]6548", "[NII]6583", "Residuals"], "range": ["#111111", "#8172B2", "#FFA500", "#FFA500", "#4C72B0", "#C44E52", "#55A868"]}}}},
        {"data": {"name": "R_bd"}, "mark": {"type": "line", "strokeWidth": 2, "strokeDash": [7, 3.5]},
         "encoding": {"color": {"datum": "[NII]6548", "type": "nominal", "scale": {"domain": ["Data", "Total Model", "Hα 'Outflow'", "Hα Systemic", "[NII]6548", "[NII]6583", "Residuals"], "range": ["#111111", "#8172B2", "#FFA500", "#FFA500", "#4C72B0", "#C44E52", "#55A868"]}}}},
        {"data": {"name": "R_bs"}, "mark": {"type": "line", "strokeWidth": 2},
         "encoding": {"color": {"datum": "[NII]6548", "type": "nominal", "scale": {"domain": ["Data", "Total Model", "Hα 'Outflow'", "Hα Systemic", "[NII]6548", "[NII]6583", "Residuals"], "range": ["#111111", "#8172B2", "#FFA500", "#FFA500", "#4C72B0", "#C44E52", "#55A868"]}}}},
        {"data": {"name": "R_rd"}, "mark": {"type": "line", "strokeWidth": 2, "strokeDash": [7, 3.5]},
         "encoding": {"color": {"datum": "[NII]6583", "type": "nominal", "scale": {"domain": ["Data", "Total Model", "Hα 'Outflow'", "Hα Systemic", "[NII]6548", "[NII]6583", "Residuals"], "range": ["#111111", "#8172B2", "#FFA500", "#FFA500", "#4C72B0", "#C44E52", "#55A868"]}}}},
        {"data": {"name": "R_rs"}, "mark": {"type": "line", "strokeWidth": 2},
         "encoding": {"color": {"datum": "[NII]6583", "type": "nominal", "scale": {"domain": ["Data", "Total Model", "Hα 'Outflow'", "Hα Systemic", "[NII]6548", "[NII]6583", "Residuals"], "range": ["#111111", "#8172B2", "#FFA500", "#FFA500", "#4C72B0", "#C44E52", "#55A868"]}}}},
        {"data": {"name": "R_resid"}, "mark": {"type": "line", "strokeWidth": 2.6},
         "encoding": {"color": {"datum": "Residuals", "type": "nominal", "scale": {"domain": ["Data", "Total Model", "Hα 'Outflow'", "Hα Systemic", "[NII]6548", "[NII]6583", "Residuals"], "range": ["#111111", "#8172B2", "#FFA500", "#FFA500", "#4C72B0", "#C44E52", "#55A868"]}}}}
      ]
    }
  ],
  "resolve": {"scale": {"x": "independent", "y": "independent", "color": "independent"}, "axis": {"x": "independent", "y": "independent"}, "legend": {"color": "independent"}},
  "config": {
    "view": {"stroke": null},
    "font": "Liberation Sans",
    "axis": {"grid": false, "domainColor": "#262626", "domainWidth": 1.5, "tickColor": "#262626", "tickWidth": 1.5, "tickSize": 9, "labelFont": "Liberation Sans", "labelFontSize": 19, "labelColor": "#262626", "labelPadding": 13, "labelFlush": false, "labelOverlap": false, "titleFont": "Liberation Sans", "titleFontSize": 19.7, "titleFontWeight": "normal", "titleColor": "#262626"},
    "axisX": {"titlePadding": 3},
    "axisY": {"titlePadding": 8},
    "legend": {"symbolType": "stroke", "symbolSize": 900, "labelFont": "Liberation Sans", "labelFontSize": 14, "labelColor": "#262626", "labelOffset": 19, "padding": 0, "rowPadding": 6.3, "symbolStrokeWidth": 2}
  }
}
